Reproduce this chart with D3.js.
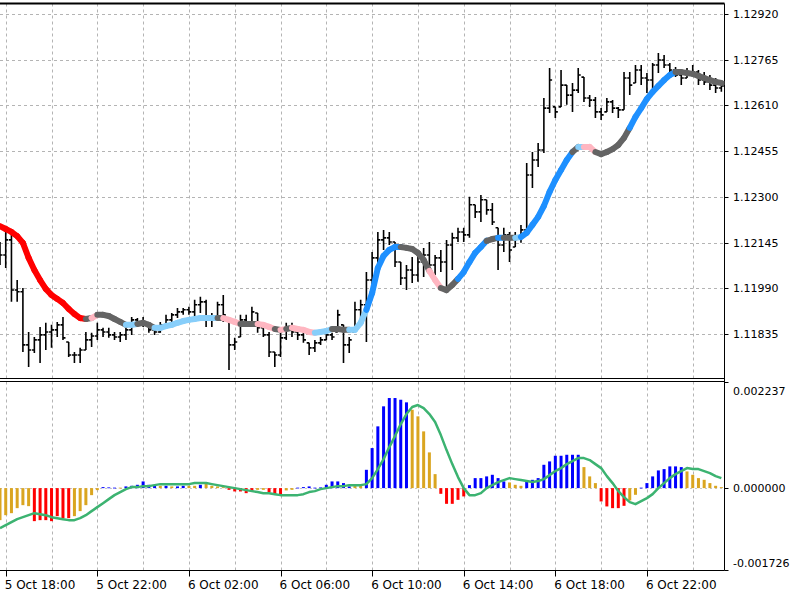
<!DOCTYPE html>
<html lang="en">
<head>
	<meta charset="UTF-8">
	<script src="https://d3js.org/d3.v7.min.js"></script>
	<title>EURUSD M15 - colored MA and histogram</title>
	<style>
		body { margin: 0; background: #fff; }
		.grid line { stroke: #b4b4b4; stroke-width: 1; stroke-dasharray: 3,3; }
		.frame { stroke: #000; stroke-width: 1; fill: none; }
		.lbl { font-family: "DejaVu Sans", sans-serif; font-size: 11px; fill: #000; }
		.tlbl { font-family: "DejaVu Sans", sans-serif; font-size: 12px; fill: #000; }
	</style>
</head>
<body>
<script>
// ---- data (EURUSD, 15 minute bars, 5 Oct 17:45 .. 7 Oct 01:15) ----
const opens = [
	1.12127,1.12103,1.12154,1.11984,1.11978,1.11798,1.11781,1.11815,1.11832,1.11842,
	1.11849,1.11866,1.11808,1.11764,1.11764,1.11781,1.11815,1.11828,1.11849,1.11842,
	1.11832,1.11825,1.11832,1.11849,1.11883,1.11876,1.11866,1.11849,1.11842,1.11866,
	1.11883,1.11900,1.11910,1.11917,1.11910,1.11934,1.11944,1.11883,1.11889,1.11934,
	1.11883,1.11798,1.11825,1.11883,1.11876,1.11906,1.11856,1.11832,1.11774,1.11764,
	1.11822,1.11856,1.11842,1.11832,1.11805,1.11788,1.11805,1.11815,1.11832,1.11842,
	1.11866,1.11798,1.11842,1.11917,1.11934,1.12018,1.12093,1.12154,1.12161,1.12147,
	1.12079,1.12025,1.12052,1.12035,1.12079,1.12103,1.12069,1.12093,1.12079,1.12137,
	1.12161,1.12181,1.12171,1.12273,1.12249,1.12290,1.12256,1.12195,1.12137,1.12171,
	1.12130,1.12161,1.12188,1.12374,1.12425,1.12459,1.12601,1.12605,1.12605,1.12679,
	1.12645,1.12662,1.12706,1.12635,1.12628,1.12588,1.12588,1.12622,1.12601,1.12595,
	1.12703,1.12686,1.12730,1.12703,1.12696,1.12747,1.12764,1.12747,1.12730,1.12713,
	1.12703,1.12723,1.12723,1.12696,1.12690,1.12679,1.12669];
const highs = [
	1.12147,1.12181,1.12178,1.12018,1.11991,1.11842,1.11825,1.11859,1.11873,1.11866,
	1.11876,1.11893,1.11808,1.11774,1.11788,1.11842,1.11839,1.11873,1.11856,1.11856,
	1.11842,1.11842,1.11856,1.11893,1.11889,1.11893,1.11873,1.11859,1.11876,1.11900,
	1.11906,1.11923,1.11923,1.11927,1.11951,1.11961,1.11951,1.11906,1.11944,1.11967,
	1.11883,1.11822,1.11900,1.11900,1.11927,1.11906,1.11859,1.11842,1.11774,1.11839,
	1.11873,1.11873,1.11856,1.11849,1.11805,1.11815,1.11825,1.11839,1.11839,1.11917,
	1.11866,1.11825,1.11944,1.11951,1.12045,1.12113,1.12181,1.12188,1.12181,1.12147,
	1.12079,1.12069,1.12096,1.12103,1.12127,1.12147,1.12103,1.12120,1.12154,1.12178,
	1.12195,1.12195,1.12300,1.12273,1.12306,1.12290,1.12279,1.12195,1.12195,1.12181,
	1.12181,1.12205,1.12415,1.12452,1.12483,1.12635,1.12737,1.12605,1.12730,1.12679,
	1.12686,1.12737,1.12706,1.12645,1.12639,1.12601,1.12635,1.12628,1.12605,1.12723,
	1.12723,1.12747,1.12747,1.12720,1.12754,1.12788,1.12781,1.12754,1.12740,1.12723,
	1.12737,1.12747,1.12730,1.12723,1.12713,1.12703,1.12696];
const lows = [
	1.12069,1.12059,1.11944,1.11944,1.11774,1.11723,1.11771,1.11737,1.11781,1.11788,
	1.11825,1.11815,1.11757,1.11737,1.11737,1.11781,1.11791,1.11815,1.11825,1.11822,
	1.11815,1.11808,1.11815,1.11832,1.11866,1.11859,1.11839,1.11832,1.11839,1.11859,
	1.11876,1.11889,1.11900,1.11900,1.11896,1.11906,1.11859,1.11859,1.11883,1.11876,
	1.11713,1.11781,1.11825,1.11859,1.11866,1.11839,1.11825,1.11757,1.11723,1.11757,
	1.11815,1.11825,1.11815,1.11805,1.11764,1.11774,1.11798,1.11815,1.11815,1.11842,
	1.11737,1.11771,1.11842,1.11883,1.11808,1.11991,1.12069,1.12120,1.12137,1.12062,
	1.12001,1.11984,1.12008,1.12012,1.12028,1.12045,1.12035,1.12045,1.11984,1.12052,
	1.12147,1.12147,1.12161,1.12228,1.12215,1.12239,1.12205,1.12052,1.12113,1.12079,
	1.12130,1.12144,1.12178,1.12330,1.12401,1.12449,1.12584,1.12567,1.12605,1.12612,
	1.12588,1.12652,1.12622,1.12605,1.12567,1.12561,1.12588,1.12584,1.12567,1.12595,
	1.12645,1.12686,1.12679,1.12652,1.12662,1.12720,1.12737,1.12713,1.12706,1.12679,
	1.12703,1.12713,1.12679,1.12679,1.12662,1.12652,1.12656];
const closes = [
	1.12103,1.12154,1.11984,1.11978,1.11798,1.11781,1.11815,1.11832,1.11842,1.11849,
	1.11866,1.11822,1.11764,1.11764,1.11781,1.11815,1.11828,1.11849,1.11842,1.11832,
	1.11825,1.11832,1.11849,1.11883,1.11876,1.11866,1.11849,1.11842,1.11866,1.11883,
	1.11900,1.11910,1.11917,1.11910,1.11934,1.11944,1.11883,1.11889,1.11934,1.11900,
	1.11798,1.11808,1.11883,1.11876,1.11910,1.11856,1.11832,1.11774,1.11764,1.11822,
	1.11856,1.11842,1.11832,1.11815,1.11788,1.11805,1.11815,1.11832,1.11825,1.11900,
	1.11798,1.11815,1.11917,1.11934,1.12018,1.12093,1.12154,1.12161,1.12147,1.12079,
	1.12025,1.12052,1.12035,1.12079,1.12103,1.12069,1.12093,1.12079,1.12137,1.12161,
	1.12181,1.12171,1.12273,1.12249,1.12290,1.12256,1.12215,1.12137,1.12171,1.12120,
	1.12161,1.12188,1.12374,1.12425,1.12459,1.12601,1.12696,1.12588,1.12679,1.12645,
	1.12662,1.12713,1.12635,1.12628,1.12588,1.12578,1.12622,1.12601,1.12595,1.12703,
	1.12679,1.12730,1.12703,1.12696,1.12747,1.12764,1.12747,1.12730,1.12713,1.12703,
	1.12723,1.12723,1.12696,1.12690,1.12679,1.12669,1.12676];

// smoothed moving average and its state per bar
// R strong down, P weak down, G flat, L weak up, D strong up
const maValues = [
	1.12201,1.12191,1.12181,1.12167,1.12144,1.12093,1.12052,1.12018,1.11988,1.11967,
	1.11954,1.11940,1.11920,1.11903,1.11889,1.11886,1.11889,1.11900,1.11900,1.11896,
	1.11886,1.11876,1.11866,1.11866,1.11869,1.11873,1.11866,1.11856,1.11856,1.11862,
	1.11866,1.11873,1.11879,1.11883,1.11886,1.11889,1.11889,1.11889,1.11889,1.11889,
	1.11883,1.11876,1.11869,1.11869,1.11869,1.11869,1.11866,1.11859,1.11852,1.11849,
	1.11852,1.11856,1.11852,1.11849,1.11842,1.11839,1.11842,1.11845,1.11852,1.11852,
	1.11849,1.11849,1.11849,1.11873,1.11917,1.11974,1.12059,1.12100,1.12120,1.12130,
	1.12130,1.12127,1.12123,1.12110,1.12086,1.12049,1.12018,1.11991,1.11984,1.12001,
	1.12022,1.12045,1.12079,1.12110,1.12130,1.12151,1.12157,1.12161,1.12161,1.12161,
	1.12161,1.12164,1.12178,1.12205,1.12232,1.12269,1.12317,1.12357,1.12391,1.12425,
	1.12452,1.12469,1.12469,1.12469,1.12452,1.12445,1.12452,1.12462,1.12476,1.12500,
	1.12534,1.12571,1.12601,1.12632,1.12656,1.12676,1.12696,1.12713,1.12723,1.12723,
	1.12720,1.12717,1.12710,1.12703,1.12696,1.12690,1.12686];
const maStates = ("RRRRRRRRRRRRRRRR" + "GP" + "GGGGG" + "LL" + "GGG" + "LLLLLLLLLLL" + "G" +
	"PPP" + "GGG" + "PPP" + "G" + "P" + "G" + "PPPP" + "LLL" + "GGG" + "LLL" + "DDDDDD" +
	"GGGGG" + "PP" + "GGG" + "DDDDD" + "GG" + "D" + "GG" + "L" + "DDDDDDDDD" + "G" + "L" +
	"PP" + "GGGGGG" + "DDDDDDDD" + "GGGGGGGG").split("");

// oscillator histogram and its signal line
// b rising above zero, g weakening, r falling below zero
const histValues = [
	-0.000675,-0.000570,-0.000528,-0.000422,-0.000359,-0.000380,-0.000696,-0.000675,-0.000675,-0.000696,
	-0.000591,-0.000633,-0.000633,-0.000591,-0.000485,-0.000359,-0.000148,-0.000042,0.000021,0.000015,
	0.000010,0.000010,0.000036,0.000049,0.000070,0.000141,0.000070,0.000049,0.000049,0.000049,
	0.000036,0.000036,0.000049,0.000049,0.000049,0.000070,0.000106,0.000049,0.000036,0.000021,
	-0.000036,-0.000070,-0.000070,-0.000106,-0.000070,-0.000036,-0.000036,-0.000091,-0.000141,-0.000141,
	-0.000049,-0.000036,0.000010,0.000021,0.000036,0.000010,0.000015,0.000070,0.000141,0.000141,
	0.000106,0.000036,0.000049,0.000049,0.000386,0.000844,0.001302,0.001724,0.001899,0.001899,
	0.001863,0.001808,0.001652,0.001513,0.001196,0.000753,0.000295,-0.000120,-0.000331,-0.000331,
	-0.000247,-0.000175,0.000063,0.000211,0.000211,0.000247,0.000281,0.000211,0.000141,0.000120,
	0.000070,0.000049,0.000141,0.000175,0.000211,0.000492,0.000563,0.000682,0.000682,0.000703,
	0.000703,0.000703,0.000443,0.000247,0.000106,-0.000281,-0.000386,-0.000422,-0.000422,-0.000373,
	-0.000260,-0.000141,0.000010,0.000106,0.000247,0.000373,0.000401,0.000458,0.000458,0.000443,
	0.000352,0.000281,0.000211,0.000175,0.000106,0.000049,0.000021];
const histStates = ("gggggg" + "rrrrrrr" + "ggggg" + "bbb" + "g" + "bbbbbb" + "g" + "b" + "g" + "bb" +
	"gg" + "b" + "gggg" + "rrrrr" + "gg" + "rrr" + "gg" + "bbbbbbbbbb" + "gg" + "bbbbbbbb" +
	"ggggg" + "rrrrr" + "bbbbbbb" + "ggg" + "bbbbbbbbbb" + "ggg" + "rrrrr" + "gg" + "bbbbbbbb" +
	"ggggggg").split("");
const signalValues = [
	-0.000844,-0.000781,-0.000717,-0.000654,-0.000612,-0.000570,-0.000528,-0.000549,-0.000570,-0.000612,
	-0.000633,-0.000654,-0.000675,-0.000675,-0.000633,-0.000570,-0.000485,-0.000401,-0.000317,-0.000232,
	-0.000148,-0.000084,-0.000021,0.000021,0.000021,0.000042,0.000042,0.000063,0.000084,0.000084,
	0.000084,0.000084,0.000084,0.000084,0.000106,0.000106,0.000106,0.000084,0.000063,0.000042,
	0.000021,0.000000,-0.000021,-0.000042,-0.000063,-0.000084,-0.000106,-0.000106,-0.000127,-0.000148,
	-0.000148,-0.000148,-0.000148,-0.000127,-0.000084,-0.000063,-0.000021,0.000000,0.000021,0.000042,
	0.000042,0.000063,0.000063,0.000063,0.000084,0.000211,0.000401,0.000612,0.000865,0.001097,
	0.001350,0.001561,0.001709,0.001751,0.001688,0.001561,0.001393,0.001118,0.000802,0.000506,
	0.000232,0.000000,-0.000148,-0.000148,-0.000106,0.000000,0.000063,0.000127,0.000169,0.000211,
	0.000190,0.000169,0.000148,0.000127,0.000148,0.000190,0.000274,0.000359,0.000422,0.000506,
	0.000570,0.000633,0.000633,0.000591,0.000506,0.000422,0.000253,0.000106,-0.000063,-0.000190,
	-0.000295,-0.000338,-0.000274,-0.000211,-0.000127,0.000000,0.000106,0.000211,0.000295,0.000359,
	0.000422,0.000401,0.000401,0.000359,0.000317,0.000253,0.000211];

const priceTicks = [1.12920, 1.12765, 1.12610, 1.12455, 1.12300, 1.12145, 1.11990, 1.11835];
const oscTicks = [0.002237, 0.000000, -0.001726];
const timeTickBars = [1, 17, 33, 49, 65, 81, 97, 113];
const timeTickLabels = ["5 Oct 18:00", "5 Oct 22:00", "6 Oct 02:00", "6 Oct 06:00",
	"6 Oct 10:00", "6 Oct 14:00", "6 Oct 18:00", "6 Oct 22:00"];

const maColor = {R: "#ff0000", P: "#ffb6c1", G: "#646464", L: "#87cefa", D: "#1e90ff"};
const histColor = {b: "#0000ff", g: "#daa520", r: "#ff0000"};

// ---- layout ----
const svg = d3.select("body").append("svg")
	.attr("width", 800)
	.attr("height", 600);
const right = 724.5,
	mainTop = 3.5, mainBottom = 378.5,
	subTop = 381.5, subBottom = 570.5;

const x = d3.scaleLinear().domain([0, 126]).range([0, 721.35]);
const y = d3.scaleLinear().domain([1.11835, 1.12920]).range([334, 14]);
const yo = d3.scaleLinear().domain([-0.001726, 0.002237]).range([570, 382]);

const defs = svg.append("defs");
defs.append("clipPath").attr("id", "clipMain")
	.append("rect").attr("x", 0).attr("y", mainTop).attr("width", right).attr("height", mainBottom - mainTop);
defs.append("clipPath").attr("id", "clipSub")
	.append("rect").attr("x", 0).attr("y", subTop).attr("width", right).attr("height", subBottom - subTop);

// grid
const gridBars = d3.range(1, 127, 8);
const grid = svg.append("g").attr("class", "grid");
grid.selectAll(".vm").data(gridBars).enter().append("line")
	.attr("x1", d => Math.round(x(d)) + 0.5).attr("x2", d => Math.round(x(d)) + 0.5)
	.attr("y1", mainTop).attr("y2", mainBottom);
grid.selectAll(".vs").data(gridBars).enter().append("line")
	.attr("x1", d => Math.round(x(d)) + 0.5).attr("x2", d => Math.round(x(d)) + 0.5)
	.attr("y1", subTop).attr("y2", subBottom);
grid.selectAll(".h").data(priceTicks).enter().append("line")
	.attr("x1", 0).attr("x2", right)
	.attr("y1", d => Math.round(y(d)) + 0.5).attr("y2", d => Math.round(y(d)) + 0.5);
// zero level of the oscillator
svg.append("line")
	.attr("x1", 0).attr("x2", right)
	.attr("y1", Math.round(yo(0)) + 0.5).attr("y2", Math.round(yo(0)) + 0.5)
	.style("stroke", "#c8c8c8").style("stroke-dasharray", "2,3");

// price bars
const bars = opens.map((o, i) => ({i: i, o: o, h: highs[i], l: lows[i], c: closes[i]}));
const main = svg.append("g").attr("clip-path", "url(#clipMain)");
const barG = main.append("g").style("stroke", "#000").style("stroke-width", 1.6);
barG.selectAll(".hl").data(bars).enter().append("line")
	.attr("x1", d => x(d.i)).attr("x2", d => x(d.i))
	.attr("y1", d => y(d.h)).attr("y2", d => y(d.l));
barG.selectAll(".op").data(bars).enter().append("line")
	.attr("x1", d => x(d.i) - 2.5).attr("x2", d => x(d.i))
	.attr("y1", d => y(d.o)).attr("y2", d => y(d.o));
barG.selectAll(".cl").data(bars).enter().append("line")
	.attr("x1", d => x(d.i)).attr("x2", d => x(d.i) + 2.5)
	.attr("y1", d => y(d.c)).attr("y2", d => y(d.c));

// coloured moving average, one segment per bar
const segs = d3.range(1, maValues.length).map(i => ({i: i, a: maValues[i - 1], b: maValues[i], s: maStates[i]}));
main.append("g").selectAll("line").data(segs).enter().append("line")
	.attr("x1", d => x(d.i - 1)).attr("x2", d => x(d.i))
	.attr("y1", d => y(d.a)).attr("y2", d => y(d.b))
	.style("stroke", d => maColor[d.s])
	.style("stroke-width", 6)
	.style("stroke-linecap", "round");

// oscillator
const sub = svg.append("g").attr("clip-path", "url(#clipSub)");
sub.selectAll(".hist").data(histValues).enter().append("rect")
	.attr("x", (d, i) => x(i) - 1.5)
	.attr("width", 3)
	.attr("y", d => Math.min(yo(d), yo(0)))
	.attr("height", d => Math.max(0.8, Math.abs(yo(d) - yo(0))))
	.style("fill", (d, i) => histColor[histStates[i]]);
sub.append("path")
	.datum(signalValues)
	.attr("d", d3.line().x((d, i) => x(i)).y(d => yo(d)))
	.style("fill", "none")
	.style("stroke", "#3cb371")
	.style("stroke-width", 2.5)
	.style("stroke-linejoin", "round");

// frames
svg.append("line").attr("class", "frame").attr("x1", 0).attr("x2", right).attr("y1", mainTop).attr("y2", mainTop).style("stroke-width", 2);
svg.append("line").attr("class", "frame").attr("x1", 0).attr("x2", right).attr("y1", mainBottom).attr("y2", mainBottom);
svg.append("line").attr("class", "frame").attr("x1", 0).attr("x2", right).attr("y1", subTop).attr("y2", subTop);
svg.append("line").attr("class", "frame").attr("x1", 0).attr("x2", right).attr("y1", subBottom).attr("y2", subBottom);
svg.append("line").attr("class", "frame").attr("x1", right).attr("x2", right).attr("y1", mainTop).attr("y2", subBottom);

// small value markers on the right edge
svg.append("rect").attr("x", right - 3).attr("y", y(maValues[maValues.length - 1]) - 2)
	.attr("width", 3).attr("height", 4).style("fill", maColor.G);

// price scale
const pAxis = svg.append("g");
pAxis.selectAll("line").data(priceTicks).enter().append("line")
	.attr("x1", right).attr("x2", right + 4)
	.attr("y1", d => Math.round(y(d)) + 0.5).attr("y2", d => Math.round(y(d)) + 0.5)
	.style("stroke", "#000");
pAxis.selectAll("text").data(priceTicks).enter().append("text")
	.attr("class", "lbl")
	.attr("x", 733).attr("y", d => y(d) + 4)
	.text(d => d.toFixed(5));

// oscillator scale
const oAxis = svg.append("g");
oAxis.selectAll("line").data(oscTicks).enter().append("line")
	.attr("x1", right).attr("x2", right + 4)
	.attr("y1", d => Math.round(yo(d)) + 0.5).attr("y2", d => Math.round(yo(d)) + 0.5)
	.style("stroke", "#000");
oAxis.selectAll("text").data(oscTicks).enter().append("text")
	.attr("class", "lbl")
	.attr("x", 733)
	.attr("y", (d, i) => i === 0 ? yo(d) + 13 : (i === 2 ? yo(d) - 3 : yo(d) + 4))
	.text(d => d.toFixed(6));

// time scale
const tAxis = svg.append("g");
tAxis.selectAll("line").data(timeTickBars).enter().append("line")
	.attr("x1", d => Math.round(x(d)) + 0.5).attr("x2", d => Math.round(x(d)) + 0.5)
	.attr("y1", subBottom).attr("y2", subBottom + 6)
	.style("stroke", "#000");
tAxis.selectAll("text").data(timeTickBars).enter().append("text")
	.attr("class", "tlbl")
	.attr("x", d => x(d) - 1).attr("y", 589)
	.text((d, i) => timeTickLabels[i]);
</script>
</body>
</html>
